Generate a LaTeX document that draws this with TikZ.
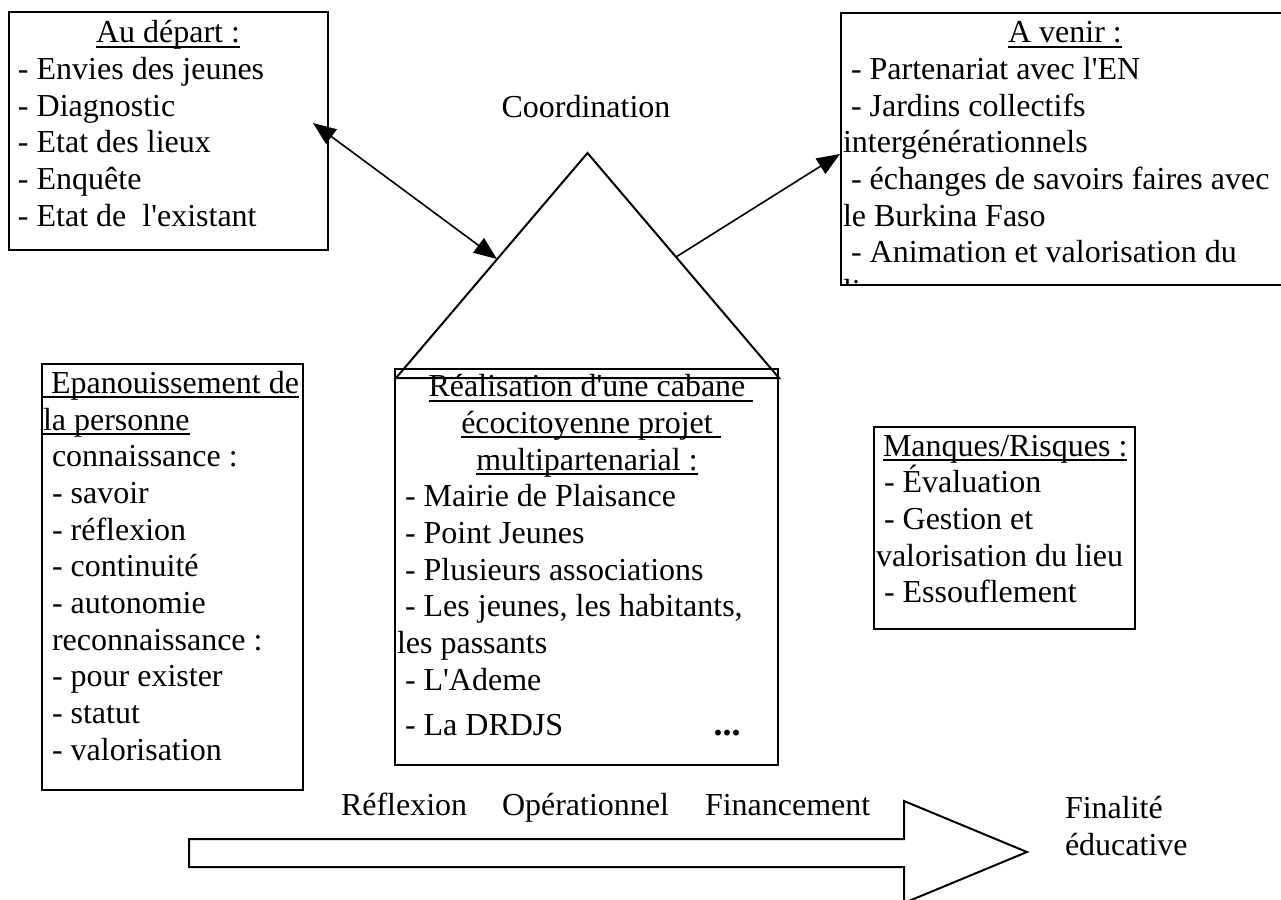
\documentclass[tikz,border=0pt]{standalone}
\usepackage{fontspec}
\setmainfont{Liberation Serif}[Ligatures=TeXOff]
\usetikzlibrary{arrows.meta,fit}
\newsavebox\ulbox
\newcommand\ulx[1]{\sbox\ulbox{#1}\rlap{\rule[-2.4pt]{\wd\ulbox}{0.9pt}}\usebox\ulbox}
\newcommand\ulsp{\rlap{\ulx{\ }}}
\tikzset{
  lt/.style={anchor=base west, inner sep=0pt, outer sep=0pt},
  ct/.style={anchor=base, inner sep=0pt, outer sep=0pt},
  boxn/.style={draw, line width=1pt, inner sep=0pt, outer sep=0pt},
  conn/.style={line width=0.8pt, -{Triangle[length=11.5pt,width=9pt]}},
  dconn/.style={line width=0.8pt, {Triangle[length=11.5pt,width=9pt]}-{Triangle[length=11.5pt,width=9pt]}},
}
\begin{document}
\begin{tikzpicture}[x=0.5pt,y=-0.5pt,font=\fontsize{16pt}{18.4pt}\selectfont]
\clip (0,0) rectangle (1281,900);
\fill[white] (0,0) rectangle (1281,900);

% ---- Au depart box
\node[boxn, fit={(9,12) (328,250)}] (depart) {};
\node[ct] (d0) at (168,42.7) {\ulx{Au départ :}};
\node[lt] (d1) at (18,79.4) {- Envies des jeunes};
\node[lt] (d2) at (18,116.1) {- Diagnostic};
\node[lt] (d3) at (18,152.8) {- Etat des lieux};
\node[lt] (d4) at (18,189.5) {- Enquête};
\node[lt] (d5) at (18,226.2) {- Etat de\ \ l'existant};

% ---- A venir box (clipped)
\begin{scope}
\clip (841,13) rectangle (1300,284);
\node[ct] (v0) at (1065,42.7) {\ulx{A venir :}};
\node[lt] (v1) at (851,79.4) {- Partenariat avec l'EN};
\node[lt] (v2) at (851,116.1) {- Jardins collectifs};
\node[lt] (v3) at (843,152.8) {intergénérationnels};
\node[lt] (v4) at (851,189.5) {- échanges de savoirs faires avec};
\node[lt] (v5) at (843,226.2) {le Burkina Faso};
\node[lt] (v6) at (851,262.9) {- Animation et valorisation du};
\node[lt] (v7) at (843,301) {lieu};
\end{scope}
\node[boxn, fit={(841,13) (1300,285)}] (venir) {};

% ---- Coordination
\node[ct] (coord) at (586,117) {Coordination};

% ---- house: triangle + box
\coordinate (apex) at (587.5,153);
\coordinate (bl) at (396,378);
\coordinate (br) at (779,378);
\node[boxn, fit={(395,369) (778,765)}] (cabane) {};
\draw[line width=1pt, line join=miter] (bl) -- (apex) -- (br) -- cycle;
\node[ct] (c0) at (587,396.7) {\ulx{Réalisation d'une cabane}\ulsp};
\node[ct] (c1) at (587,433.4) {\ulx{écocitoyenne projet}\ulsp};
\node[ct] (c2) at (587,470.1) {\ulx{multipartenarial :}};
\node[lt] (c3) at (405,506.8) {- Mairie de Plaisance};
\node[lt] (c4) at (405,543.5) {- Point Jeunes};
\node[lt] (c5) at (405,580.2) {- Plusieurs associations};
\node[lt] (c6) at (405,616.9) {- Les jeunes, les habitants,};
\node[lt] (c7) at (397,653.6) {les passants};
\node[lt] (c8) at (405,690.3) {- L'Ademe};
\node[lt] (c9) at (405,735) {- La DRDJS};
\node[ct] (c10) at (727,735) {\fontsize{18pt}{20pt}\selectfont\textbf{...}};

% ---- Epanouissement box
\node[boxn, fit={(42,364) (303,790)}] (epan) {};
\node[lt] (e0) at (43,393.3) {\ulx{\ Epanouissement de}};
\node[lt] (e1) at (43,430) {\ulx{la personne}};
\node[lt] (e2) at (52,466.7) {connaissance :};
\node[lt] (e3) at (52,503.4) {- savoir};
\node[lt] (e4) at (52,540.1) {- réflexion};
\node[lt] (e5) at (52,576.8) {- continuité};
\node[lt] (e6) at (52,613.5) {- autonomie};
\node[lt] (e7) at (52,650.2) {reconnaissance :};
\node[lt] (e8) at (52,686.9) {- pour exister};
\node[lt] (e9) at (52,723.6) {- statut};
\node[lt] (e10) at (52,760.3) {- valorisation};

% ---- Manques box
\node[boxn, fit={(874,427) (1135,629)}] (manques) {};
\node[lt] (m0) at (883,456) {\ulx{Manques/Risques :}};
\node[lt] (m1) at (884,492.7) {- Évaluation};
\node[lt] (m2) at (884,529.4) {- Gestion et};
\node[lt] (m3) at (876,566.1) {valorisation du lieu};
\node[lt] (m4) at (884,602.8) {- Essouflement};

% ---- connectors
\coordinate (a1) at (313,123);
\coordinate (a2) at (497,259);
\coordinate (a3) at (676,257);
\coordinate (a4) at (840,154);
\draw[dconn] (a1) -- (a2);
\draw[conn] (a3) -- (a4);

% ---- bottom arrow
\draw[line width=1pt, line join=miter]
  (189,839) -- (904,839) -- (904,801) -- (1027,852) -- (904,903) -- (904,867) -- (189,867) -- cycle;
\node[lt] (b1) at (341,815) {Réflexion};
\node[lt] (b2) at (502,815) {Opérationnel};
\node[lt] (b3) at (705,815) {Financement};
\node[lt] (f1) at (1065,818) {Finalité};
\node[lt] (f2) at (1065,855) {éducative};
\end{tikzpicture}
\end{document}
